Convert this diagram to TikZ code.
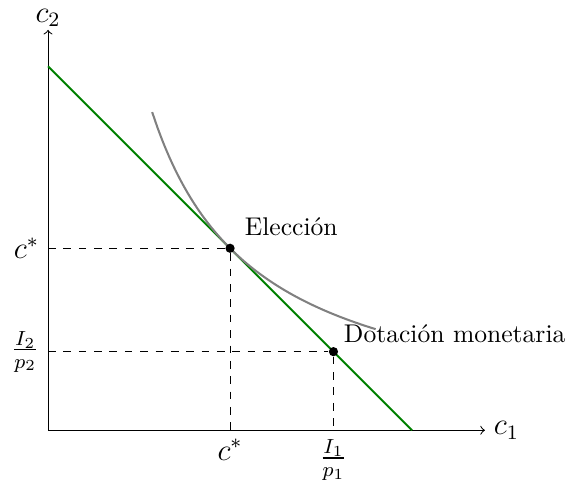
\documentclass[tikz,border=0pt]{standalone}
\usepackage{amssymb,amsmath}
\usepackage{tikz}
\usetikzlibrary{calc}

\begin{document}
\begin{tikzpicture}[scale=1, dot/.style={circle, fill=black, inner sep=0pt, minimum size=3.6pt}, mlabel/.style={font=\large}]
    \useasboundingbox (-0.66,-0.81) rectangle (7.21,5.91);
    % Named points
    \coordinate (O) at (0,0);
    \coordinate (xend) at (6,0);
    \coordinate (yend) at (0,5.5);
    \coordinate (A) at (0,5);
    \coordinate (B) at (5,0);
    \coordinate (xstar) at (2.5,0);
    \coordinate (ystar) at (0,2.5);
    \coordinate (xdot) at (3.92,0);
    \coordinate (ydot) at (0,1.08);

    % Draw axes
    \draw[->] (O) -- (xend) node[anchor=west, mlabel] {$c_1$};
    \draw[->] (O) -- (yend) node[anchor=south, mlabel, inner sep=1pt] {$c_2$};

    % Budget line
    \draw[thick, green!50!black] (A) -- (B);

    % Indifference curve
    \draw[thick, gray, smooth, domain=1.43:4.5, samples=40] plot (\x, {6.25/\x});

    % Points
    \node[dot] (elec) at (2.5,2.5) {};
    \node[dot] (dot) at (3.92,1.08) {};
    \node[anchor=south west] at ($(elec)+(0.08,0.05)$) {Elección};
    \node[anchor=south west] at ($(dot)+(0.02,0.0)$) {Dotación monetaria};

    % Dashed guides
    \draw[dashed] (ystar) -- (elec) -- (xstar);
    \draw[dashed] (ydot) -- (dot) -- (xdot);

    % Axis labels
    \node[anchor=east, mlabel] at (ystar) {$c^*$};
    \node[anchor=east, mlabel] at (ydot) {$\frac{I_2}{p_2}$};
    \node[anchor=north, mlabel] at (xstar) {$c^*$};
    \node[anchor=north, mlabel] at (xdot) {$\frac{I_1}{p_1}$};
\end{tikzpicture}
\end{document}
